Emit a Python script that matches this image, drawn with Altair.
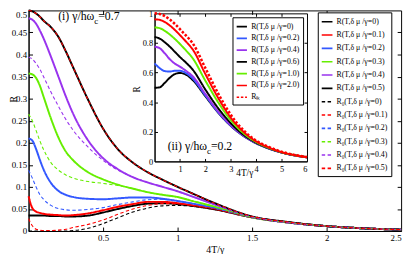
import altair as alt
import pandas as pd

SERIF = "Liberation Serif"
W, H = 380, 225

# ---------------- main panel data (x = 4T/gamma) ----------------
MX = [0, 0.025, 0.05, 0.075, 0.1, 0.15, 0.2, 0.25, 0.3, 0.4, 0.5, 0.6, 0.7,
      0.8, 0.9, 1.0, 1.1, 1.25, 1.5, 1.75, 2.0, 2.25, 2.5]

R_00 = [0.035, 0.035, 0.035, 0.035, 0.035, 0.034, 0.034, 0.033, 0.033, 0.035, 0.042, 0.050,
        0.057, 0.062, 0.063, 0.061, 0.057, 0.049, 0.031, 0.019, 0.011, 0.006, 0.003]
R_01 = [0.079, 0.052, 0.044, 0.041, 0.039, 0.037, 0.036, 0.035, 0.036, 0.040, 0.047, 0.055,
        0.061, 0.066, 0.066, 0.063, 0.058, 0.050, 0.031, 0.019, 0.011, 0.006, 0.003]
R_02 = [0.210, 0.205, 0.186, 0.162, 0.140, 0.109, 0.091, 0.082, 0.077, 0.073, 0.072, 0.074,
        0.076, 0.076, 0.073, 0.068, 0.062, 0.052, 0.031, 0.019, 0.011, 0.006, 0.003]
R_03 = [0.357, 0.355, 0.347, 0.330, 0.305, 0.255, 0.212, 0.180, 0.160, 0.133, 0.117, 0.105,
        0.096, 0.088, 0.082, 0.077, 0.068, 0.055, 0.031, 0.019, 0.011, 0.006, 0.003]
R_04 = [0.482, 0.479, 0.470, 0.455, 0.437, 0.395, 0.350, 0.305, 0.265, 0.205, 0.165, 0.140,
        0.122, 0.110, 0.100, 0.090, 0.078, 0.060, 0.032, 0.019, 0.011, 0.006, 0.003]
R_05 = [0.500, 0.498, 0.493, 0.486, 0.477, 0.462, 0.440, 0.407, 0.370, 0.297, 0.232, 0.185,
        0.155, 0.133, 0.116, 0.100, 0.085, 0.063, 0.033, 0.020, 0.011, 0.006, 0.003]

R0_00 = [0.000, 0.000, 0.000, 0.000, 0.000, 0.000, 0.000, 0.000, 0.001, 0.006, 0.017, 0.030,
         0.043, 0.052, 0.057, 0.058, 0.056, 0.049, 0.031, 0.019, 0.011, 0.006, 0.003]
R0_01 = [0.028, 0.012, 0.004, 0.002, 0.001, 0.001, 0.002, 0.004, 0.008, 0.015, 0.025, 0.038,
         0.050, 0.058, 0.062, 0.062, 0.058, 0.050, 0.031, 0.019, 0.011, 0.006, 0.003]
R0_02 = [0.138, 0.120, 0.100, 0.083, 0.072, 0.058, 0.051, 0.048, 0.047, 0.049, 0.053, 0.060,
         0.066, 0.071, 0.072, 0.068, 0.062, 0.052, 0.031, 0.019, 0.011, 0.006, 0.003]
R0_03 = [0.265, 0.250, 0.228, 0.205, 0.185, 0.155, 0.138, 0.127, 0.120, 0.112, 0.108, 0.103,
         0.096, 0.088, 0.082, 0.077, 0.068, 0.055, 0.031, 0.019, 0.011, 0.006, 0.003]
R0_04 = [0.394, 0.390, 0.380, 0.367, 0.350, 0.315, 0.283, 0.253, 0.228, 0.190, 0.160, 0.138,
         0.122, 0.110, 0.100, 0.090, 0.078, 0.060, 0.032, 0.019, 0.011, 0.006, 0.003]
R0_05 = R_05

MAIN_SOLID_LABELS = ["R(T,δ μ /γ=0)", "R(T,δ μ /γ=0.1)", "R(T,δ μ /γ=0.2)",
                     "R(T,δ μ /γ=0.3)", "R(T,δ μ /γ=0.4)", "R(T,δ μ /γ=0.5)"]
MAIN_DASH_LABELS = ["R₀(T,δ μ /γ=0)", "R₀(T,δ μ /γ=0.1)", "R₀(T,δ μ /γ=0.2)",
                    "R₀(T,δ μ /γ=0.3)", "R₀(T,δ μ /γ=0.4)", "R₀(T,δ μ /γ=0.5)"]
MAIN_SOLID_Y = [R_00, R_01, R_02, R_03, R_04, R_05]
MAIN_DASH_Y = [R0_00, R0_01, R0_02, R0_03, R0_04, R0_05]

BLACK, RED, BLUE, GREEN, PURPLE = "#000000", "#ff0000", "#3358ff", "#66ee00", "#9933ee"
MAIN_COLORS = [BLACK, RED, BLUE, GREEN, PURPLE, BLACK,
               BLACK, RED, BLUE, GREEN, PURPLE, RED]
MAIN_DASHES = [[1, 0]] * 6 + [[3.5, 2.5]] * 6

MAIN_YTICKS = [0, 0.05, 0.1, 0.15, 0.2, 0.25, 0.3, 0.35, 0.4, 0.45, 0.5]
MAIN_XTICKS = [0.5, 1, 1.5, 2, 2.5]

# ---------------- inset data ----------------
IX = [0, 0.2, 0.4, 0.6, 0.8, 1.0, 1.25, 1.5, 2.0, 2.5, 3.0, 3.5, 4.0, 4.5, 5.0, 5.5, 6.0]
I_00 = [0.497, 0.500, 0.530, 0.565, 0.590, 0.597, 0.585, 0.550, 0.440, 0.330, 0.240, 0.172,
        0.122, 0.087, 0.060, 0.041, 0.027]
I_02 = [0.662, 0.630, 0.610, 0.607, 0.612, 0.612, 0.595, 0.560, 0.445, 0.333, 0.242, 0.173,
        0.123, 0.087, 0.060, 0.041, 0.027]
I_04 = [0.775, 0.765, 0.730, 0.690, 0.660, 0.640, 0.610, 0.575, 0.455, 0.338, 0.245, 0.175,
        0.124, 0.088, 0.060, 0.041, 0.027]
I_06 = [0.840, 0.830, 0.805, 0.775, 0.740, 0.705, 0.665, 0.620, 0.485, 0.360, 0.258, 0.180,
        0.126, 0.089, 0.061, 0.042, 0.028]
I_10 = [0.905, 0.900, 0.882, 0.857, 0.827, 0.793, 0.747, 0.697, 0.545, 0.400, 0.278, 0.190,
        0.130, 0.091, 0.062, 0.042, 0.028]
I_20 = [0.960, 0.956, 0.942, 0.918, 0.888, 0.853, 0.807, 0.757, 0.590, 0.430, 0.295, 0.200,
        0.135, 0.094, 0.063, 0.043, 0.028]
I_LK = [1.000, 0.996, 0.982, 0.958, 0.928, 0.893, 0.848, 0.798, 0.630, 0.460, 0.315, 0.210,
        0.140, 0.097, 0.065, 0.044, 0.029]

INSET_SOLID_LABELS = ["R(T,δ μ /γ=0)", "R(T,δ μ /γ=0.2)", "R(T,δ μ /γ=0.4)",
                      "R(T,δ μ /γ=0.6)", "R(T,δ μ /γ=1.0)", "R(T,δ μ /γ=2.0)"]
INSET_LK_LABELS = ["Rₗₖ"]
INSET_SOLID_Y = [I_00, I_02, I_04, I_06, I_10, I_20]
INSET_LK_Y = [I_LK]
INSET_COLORS = [BLACK, BLUE, PURPLE, BLACK, GREEN, RED, RED]
INSET_DASHES = [[1, 0]] * 6 + [[2.5, 1.8]]

INSET_YTICKS = [0, 0.2, 0.4, 0.6, 0.8, 1]
INSET_XTICKS = [1, 2, 3, 4, 5, 6]

ANN_I = ["(i) γ/hω", "c", "=0.7"]
ANN_II = ["(ii) γ/hω", "c", "=0.2"]


def long_df(xs, ys_list, labels):
    rows = []
    for lab, ys in zip(labels, ys_list):
        for xv, yv in zip(xs, ys):
            rows.append({"x": xv, "y": yv, "s": lab})
    return pd.DataFrame(rows)


df_main_solid = long_df(MX, MAIN_SOLID_Y, MAIN_SOLID_LABELS)
df_main_dash = long_df(MX, MAIN_DASH_Y, MAIN_DASH_LABELS)
df_inset_solid = long_df(IX, INSET_SOLID_Y, INSET_SOLID_LABELS)
df_inset_lk = long_df(IX, INSET_LK_Y, INSET_LK_LABELS)
dummy = pd.DataFrame({"x": [0], "y": [0]})

# ---------------- scales (inset drawn inside the main plot area) ----------------
IL, IR, IT, IB = 128.5, 284, 3, 154
XM = alt.Scale(domain=[0, 2.5], range=[0, W], nice=False, zero=False)
YM = alt.Scale(domain=[0, 0.5], range=[H, 0], nice=False, zero=False)
XI = alt.Scale(domain=[0, 6], range=[IL, IR], nice=False, zero=False)
YI = alt.Scale(domain=[0, 1], range=[IB, IT], nice=False, zero=False)

MAIN_LABELS = MAIN_SOLID_LABELS + MAIN_DASH_LABELS
INSET_LABELS = INSET_SOLID_LABELS + INSET_LK_LABELS


def legend(x, y, row_pad, sym):
    return alt.Legend(title=None, orient="none", legendX=x, legendY=y,
                      symbolType="stroke", symbolSize=sym, symbolStrokeWidth=1.6,
                      labelFont=SERIF, labelFontSize=8, labelColor="black",
                      strokeColor="black", fillColor="white", padding=3,
                      rowPadding=row_pad, labelOffset=3, cornerRadius=0)


LEG_MAIN = legend(295, 2, 2.6, 120)
LEG_INSET = legend(208, 7, 1.0, 110)

AX = dict(grid=False, domainColor="black", tickColor="black", labelColor="black",
          labelFont=SERIF, titleFont=SERIF, titleFontWeight="normal", titleColor="black")

main_x = alt.X("x:Q", scale=XM, axis=alt.Axis(
    orient="bottom", values=MAIN_XTICKS, format="~g", ticks=False, labelFontSize=9,
    labelPadding=3, title="4T/γ", titleFontSize=10, titlePadding=2, **AX))
main_y = alt.Y("y:Q", scale=YM, axis=alt.Axis(
    orient="left", values=MAIN_YTICKS, format="~g", ticks=False, labelFontSize=9,
    labelPadding=2,
    labelOffset={"condition": {"test": "datum.value >= 0.5", "value": 4}, "value": 0},
    title="R", titleFontSize=10, titleX=-12, titleY=90, titleAngle=-90,
    titleBaseline="alphabetic", **AX))


def main_enc():
    return dict(
        x=main_x, y=main_y,
        color=alt.Color("s:N", scale=alt.Scale(domain=MAIN_LABELS, range=MAIN_COLORS), legend=LEG_MAIN),
        strokeDash=alt.StrokeDash("s:N", scale=alt.Scale(domain=MAIN_LABELS, range=MAIN_DASHES), legend=LEG_MAIN),
    )


main_lines = alt.layer(
    alt.Chart(df_main_solid).mark_line(interpolate="monotone", strokeWidth=2).encode(**main_enc()),
    alt.Chart(df_main_dash).mark_line(interpolate="monotone", strokeWidth=1.1).encode(**main_enc()),
)

inset_x = alt.X("x:Q", scale=XI, axis=alt.Axis(
    orient="bottom", offset=IB - H, values=INSET_XTICKS, format="~g", ticks=False,
    labelFontSize=8.5, labelPadding=3, title="4T/γ", titleFontSize=9.5,
    titleX=220, titleY=14, titleBaseline="alphabetic", **AX))
inset_y = alt.Y("y:Q", scale=YI, axis=alt.Axis(
    orient="left", offset=-IL, values=INSET_YTICKS, format="~g", ticks=False,
    labelFontSize=8.5, labelPadding=2, title="R", titleFontSize=9.5, titleX=-15,
    titleY=80, titleAngle=-90, titleBaseline="alphabetic", **AX))


def inset_enc():
    return dict(
        x=inset_x, y=inset_y,
        color=alt.Color("s:N", scale=alt.Scale(domain=INSET_LABELS, range=INSET_COLORS), legend=LEG_INSET),
        strokeDash=alt.StrokeDash("s:N", scale=alt.Scale(domain=INSET_LABELS, range=INSET_DASHES), legend=LEG_INSET),
    )


inset_lines = alt.layer(
    alt.Chart(df_inset_solid).mark_line(interpolate="monotone", strokeWidth=2).encode(**inset_enc()),
    alt.Chart(df_inset_lk).mark_line(interpolate="monotone", strokeWidth=2.6).encode(**inset_enc()),
)


def tick_layer(xs, ys, xvals, yvals, xo, xoff, yo, yoff, tsize):
    return alt.Chart(dummy).mark_point(opacity=0).encode(
        x=alt.X("x:Q", scale=xs, title=None, axis=alt.Axis(
            orient=xo, offset=xoff, values=xvals, labels=False, tickSize=tsize, **AX)),
        y=alt.Y("y:Q", scale=ys, title=None, axis=alt.Axis(
            orient=yo, offset=yoff, values=yvals, labels=False, tickSize=tsize, **AX)),
    )


MT_X = [0.5, 1, 1.5, 2]
MT_Y = MAIN_YTICKS[1:-1]
IT_X = [1, 2, 3, 4, 5]
IT_Y = [0.2, 0.4, 0.6, 0.8]

main_ticks_a = tick_layer(XM, YM, MT_X, MT_Y, "top", -H, "right", -W, 4)
main_ticks_b = tick_layer(XM, YM, MT_X, MT_Y, "bottom", -H, "left", -W, 4)
inset_ticks_a = tick_layer(XI, YI, IT_X, IT_Y, "top", -IB, "right", IL - W, 3)
inset_ticks_b = tick_layer(XI, YI, IT_X, IT_Y, "bottom", IT - H, "left", -IR, 3)


def ann(text, x, y, size, align):
    return alt.Chart(pd.DataFrame({"t": [text]})).mark_text(
        align=align, baseline="alphabetic", font=SERIF, fontSize=size, color="black"
    ).encode(text="t:N", x=alt.value(x), y=alt.value(y))


texts = [
    ann(ANN_I[0], 67, 10, 12, "right"), ann(ANN_I[1], 67, 14, 9, "left"),
    ann(ANN_I[2], 71, 10, 12, "left"),
    ann(ANN_II[0], 182, 142, 12, "right"), ann(ANN_II[1], 182, 146, 9, "left"),
    ann(ANN_II[2], 186, 142, 12, "left"),
]

chart = alt.layer(
    main_lines, main_ticks_a, main_ticks_b,
    inset_lines, inset_ticks_a, inset_ticks_b, *texts
).resolve_scale(
    x="independent", y="independent", color="independent", strokeDash="independent"
).properties(
    width=W, height=H,
    padding={"left": 21, "top": 0, "right": 6, "bottom": 21},
    autosize=alt.AutoSizeParams(type="none"),
    background="white",
).configure_view(stroke=None)

chart.save("out.html", embed_options={"renderer": "svg", "actions": False})
